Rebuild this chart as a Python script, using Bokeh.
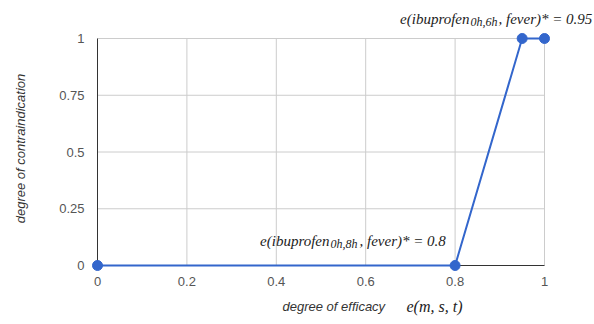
from bokeh.plotting import figure
from bokeh.models import Range1d, Label, FixedTicker
from bokeh.embed import file_html
from bokeh.resources import INLINE
import math

# ---- data ----
efficacy = [0.0, 0.8, 0.95, 1.0]
contraindication = [0.0, 0.0, 1.0, 1.0]
x_ticks = [0, 0.2, 0.4, 0.6, 0.8, 1]
x_tick_labels = ["0", "0.2", "0.4", "0.6", "0.8", "1"]
y_ticks = [0, 0.25, 0.5, 0.75, 1]
y_tick_labels = ["0", "0.25", "0.5", "0.75", "1"]
x_title = "degree of efficacy"
x_title_math = "e(m, s, t)"
y_title = "degree of contraindication"
ann_top = ("e(ibuprofen", "0h,6h", ", fever)* = 0.95")
ann_bottom = ("e(ibuprofen", "0h,8h", ", fever)* = 0.8")

# ---- geometry (canvas px) ----
W, H = 594, 322
X0, X1 = 97, 544          # px of data x = 0 and 1
Y1, Y0 = 38, 265          # px of data y = 1 and 0 (from top)
SX = X1 - X0
SY = Y0 - Y1


def xd(ix):
    return (ix - X0) / SX


def yd(iy):
    return (Y0 - iy) / SY


p = figure(width=W, height=H, output_backend="svg", toolbar_location=None,
           x_range=Range1d(xd(0), xd(W)), y_range=Range1d(yd(H), yd(0)),
           min_border=0, min_border_left=0, min_border_right=0,
           min_border_top=0, min_border_bottom=0)
p.outline_line_color = None
p.background_fill_color = "white"
p.border_fill_color = "white"
p.xgrid.visible = False
p.ygrid.visible = False

for ax, ticks, labels, so in ((p.xaxis, x_ticks, x_tick_labels, 11),
                              (p.yaxis, y_ticks, y_tick_labels, 13)):
    ax.fixed_location = 0
    ax.ticker = FixedTicker(ticks=ticks)
    ax.major_label_overrides = {float(t): l for t, l in zip(ticks, labels)}
    ax.axis_line_color = None
    ax.major_tick_line_color = None
    ax.minor_tick_line_color = None
    ax.major_tick_out = 0
    ax.major_tick_in = 0
    ax.major_label_standoff = so
    ax.major_label_text_font = "Liberation Sans"
    ax.major_label_text_font_size = "13px"
    ax.major_label_text_color = "#555555"

# gridlines from tick lists
vx = x_ticks[1:]
p.segment(x0=vx, y0=[y_ticks[0]] * len(vx), x1=vx, y1=[y_ticks[-1]] * len(vx),
          line_color="#cccccc", line_width=1)
hy = y_ticks[1:]
p.segment(x0=[x_ticks[0]] * len(hy), y0=hy, x1=[x_ticks[-1]] * len(hy), y1=hy,
          line_color="#cccccc", line_width=1)
# baselines
p.segment(x0=[x_ticks[0]], y0=[y_ticks[0]], x1=[x_ticks[0]], y1=[y_ticks[-1]],
          line_color="#333333", line_width=1)
p.segment(x0=[x_ticks[0]], y0=[y_ticks[0]], x1=[x_ticks[-1]], y1=[y_ticks[0]],
          line_color="#333333", line_width=1)

# series
p.line(efficacy, contraindication, line_color="#3366cc", line_width=2)
p.scatter(efficacy, contraindication, size=10, fill_color="#3366cc",
          line_color="#3366cc")

# axis titles
p.add_layout(Label(x=xd(282), y=yd(306), text=x_title, text_font="Liberation Sans",
                   text_font_style="italic", text_font_size="13px",
                   text_color="#333333", text_baseline="middle", text_align="left"))
p.add_layout(Label(x=xd(406), y=yd(306), text=x_title_math, text_font="Liberation Serif",
                   text_font_style="italic", text_font_size="16px",
                   text_color="#222222", text_baseline="middle", text_align="left"))
p.add_layout(Label(x=xd(20), y=yd(148), text=y_title, text_font="Liberation Sans",
                   text_font_style="italic", text_font_size="13px", angle=math.pi / 2,
                   text_color="#333333", text_baseline="middle", text_align="center"))


def annotation(parts, anchor_ix, base_iy, rest_dx):
    main, sub, rest = parts
    kw = dict(text_font="Liberation Serif", text_font_style="italic",
              text_color="#222222", text_baseline="alphabetic")
    p.add_layout(Label(x=xd(anchor_ix), y=yd(base_iy), text=main,
                       text_font_size="15px", text_align="right", **kw))
    p.add_layout(Label(x=xd(anchor_ix + 1), y=yd(base_iy + 3), text=sub,
                       text_font_size="12px", text_align="left", **kw))
    p.add_layout(Label(x=xd(anchor_ix + rest_dx), y=yd(base_iy), text=rest,
                       text_font_size="15px", text_align="left", **kw))


annotation(ann_top, 469, 18, 29)
annotation(ann_bottom, 329, 240, 30)

open("out.html", "w").write(file_html(p, INLINE))
